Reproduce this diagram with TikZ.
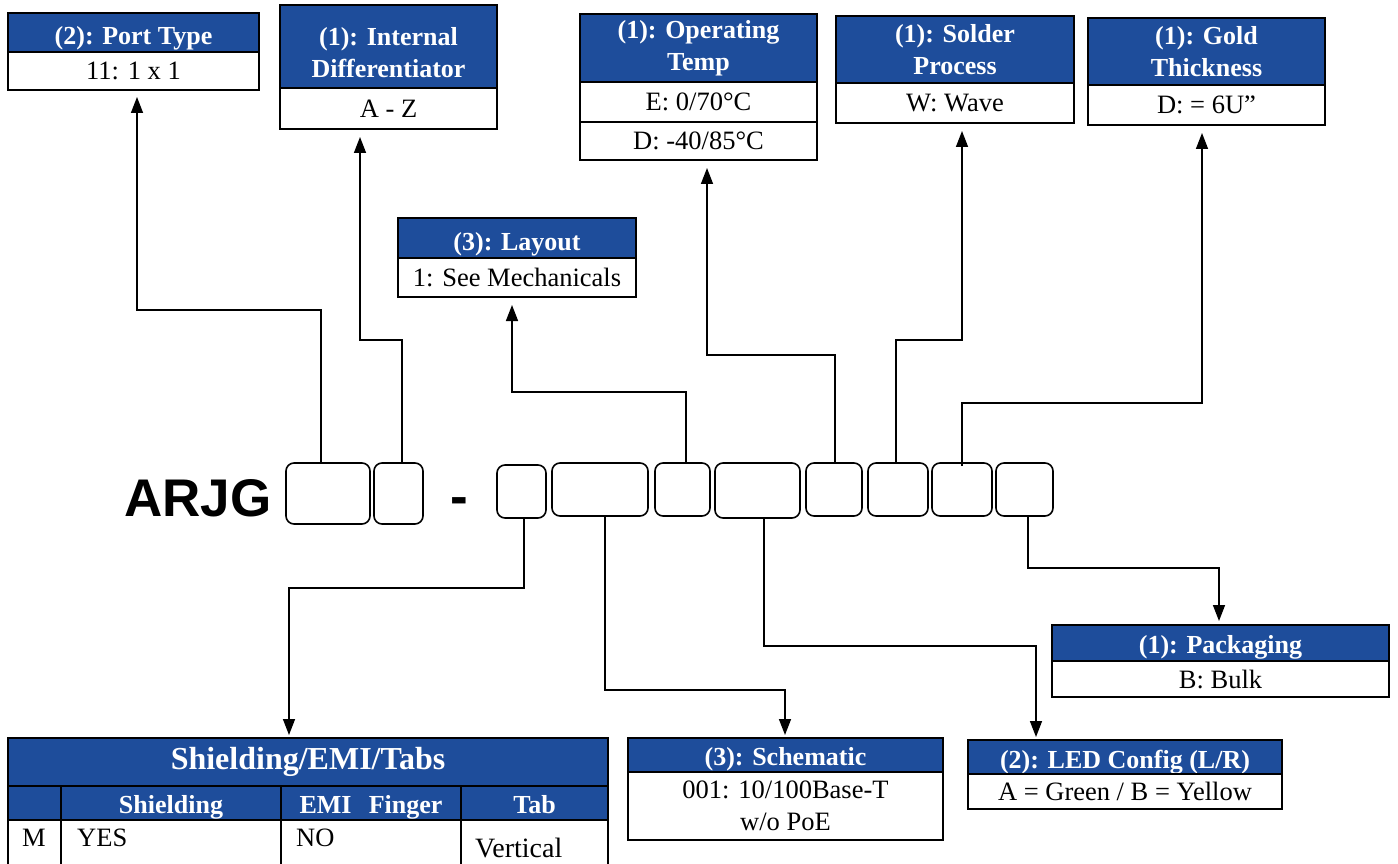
\documentclass[tikz,border=0pt]{standalone}
\usepackage{fontspec}
\setmainfont{Liberation Serif}
\newfontfamily\arialfont{Liberation Sans}
\usetikzlibrary{arrows.meta}
\definecolor{hdrblue}{RGB}{30,77,155}
\newcommand{\lowtwo}[3]{\raisebox{#1}[0pt][0pt]{\begin{tabular}{@{}c@{}}#2\\#3\end{tabular}}}
\begin{document}
\begin{tikzpicture}[x=1pt,y=-1pt,
  hdr/.style={draw=black, line width=2pt, fill=hdrblue, text=white,
    font=\fontsize{26}{32}\selectfont\bfseries, inner sep=0pt, outer sep=0pt,
    anchor=north west, align=center},
  one/.style={text height=#1, text depth=0pt},
  bdy/.style={draw=black, line width=2pt, fill=white,
    font=\fontsize{26.5}{32}\selectfont, inner sep=0pt, outer sep=0pt,
    anchor=north west, align=center},
  slot/.style={draw=black, line width=1.6pt, rounded corners=8pt,
    inner sep=0pt, outer sep=0pt, anchor=north west},
  cell/.style={draw=black, line width=2pt, inner sep=0pt, outer sep=0pt, anchor=north west},
  celltxt/.style={font=\fontsize{26.5}{30}\selectfont, inner sep=0pt, anchor=west},
  arr/.style={line width=1.5pt, -{Triangle[length=16pt,width=12pt]}}]
\useasboundingbox (0,0) rectangle (1398,864);
\clip (0,0) rectangle (1398,864);

% ---- top boxes
\node[hdr, one=25pt, minimum width=251pt, minimum height=39pt] (pt_t) at (8,13) {(2): Port Type};
\node[bdy, minimum width=251pt, minimum height=38pt] (pt_b) at (pt_t.south west) {11: 1 x 1};

\node[hdr, minimum width=217pt, minimum height=83pt] (id_t) at (280,5) {\lowtwo{-15pt}{(1): Internal}{Differentiator}};
\node[bdy, minimum width=217pt, minimum height=41pt] (id_b) at (id_t.south west) {A - Z};

\node[hdr, minimum width=237pt, minimum height=68pt] (ot_t) at (580,14) {(1): Operating\\Temp};
\node[bdy, minimum width=237pt, minimum height=40pt] (ot_b1) at (ot_t.south west) {E: 0/70°C};
\node[bdy, minimum width=237pt, minimum height=38pt] (ot_b2) at (ot_b1.south west) {D: -40/85°C};

\node[hdr, minimum width=238pt, minimum height=67pt] (sp_t) at (836,16) {(1): Solder\\Process};
\node[bdy, minimum width=238pt, minimum height=40pt] (sp_b) at (sp_t.south west) {W: Wave};

\node[hdr, minimum width=237pt, minimum height=67pt] (gt_t) at (1088,18) {(1): Gold\\Thickness};
\node[bdy, minimum width=237pt, minimum height=40pt] (gt_b) at (gt_t.south west) {D: = 6U”};

\node[hdr, one=25pt, minimum width=238pt, minimum height=40pt] (ly_t) at (398,218) {(3): Layout};
\node[bdy, minimum width=238pt, minimum height=39pt] (ly_b) at (ly_t.south west) {1: See Mechanicals};

% ---- bottom boxes
\node[hdr, one=21pt, minimum width=337pt, minimum height=36pt] (pk_t) at (1052,625) {(1): Packaging};
\node[bdy, minimum width=337pt, minimum height=36pt] (pk_b) at (pk_t.south west) {B: Bulk};

\node[hdr, one=21pt, minimum width=315pt, minimum height=34pt] (sc_t) at (628,738) {(3): Schematic};
\node[bdy, minimum width=315pt, minimum height=68pt] (sc_b) at (sc_t.south west) {001: 10/100Base-T\\w/o PoE};

\node[hdr, one=23pt, minimum width=314pt, minimum height=34pt] (led_t) at (968,740) {(2): LED Config (L/R)};
\node[bdy, minimum width=314pt, minimum height=35pt] (led_b) at (led_t.south west) {A = Green / B = Yellow};

% ---- shielding table
\node[hdr, minimum width=600pt, minimum height=48pt, font=\fontsize{32}{36}\selectfont\bfseries] (sh_t) at (8,738) {Shielding/EMI/Tabs};
\node[hdr, minimum width=53pt, minimum height=34pt] (h0) at (sh_t.south west) {};
\node[hdr, one=21pt, minimum width=220pt, minimum height=34pt] (h1) at (h0.north east) {Shielding};
\node[hdr, one=21pt, minimum width=180pt, minimum height=34pt] (h2) at (h1.north east) {EMI\ \ \,Finger};
\node[hdr, one=21pt, minimum width=147pt, minimum height=34pt] (h3) at (h2.north east) {Tab};
\node[cell, minimum width=53pt, minimum height=60pt] (d0) at (h0.south west) {};
\node[cell, minimum width=220pt, minimum height=60pt] (d1) at (h1.south west) {};
\node[cell, minimum width=180pt, minimum height=60pt] (d2) at (h2.south west) {};
\node[cell, minimum width=147pt, minimum height=60pt] (d3) at (h3.south west) {};
\node[celltxt, anchor=center] (tm) at (34,838) {M};
\node[celltxt] (tyes) at (77,838) {YES};
\node[celltxt] (tno) at (296,838) {NO};
\node[celltxt, font=\fontsize{28}{30}\selectfont] (tvert) at (475,848) {Vertical};

% ---- part number row
\node[font=\arialfont\bfseries\fontsize{53}{60}\selectfont, inner sep=0pt, anchor=west] (arjg) at (124,498) {ARJG};
\node[slot, minimum width=84pt, minimum height=61pt] (b1) at (286,463) {};
\node[slot, minimum width=49pt, minimum height=61pt] (b2) at (374,463) {};
\node[font=\arialfont\bfseries\fontsize{53}{60}\selectfont, inner sep=0pt] (dash) at (459,506) {-};
\node[slot, minimum width=49pt, minimum height=53pt] (b3) at (497,465) {};
\node[slot, minimum width=96pt, minimum height=53pt] (b4) at (552,463) {};
\node[slot, minimum width=55pt, minimum height=53pt] (b5) at (655,463) {};
\node[slot, minimum width=85pt, minimum height=55pt] (b6) at (715,463) {};
\node[slot, minimum width=56pt, minimum height=53pt] (b7) at (806,463) {};
\node[slot, minimum width=60pt, minimum height=53pt] (b8) at (868,463) {};
\node[slot, minimum width=60pt, minimum height=53pt] (b9) at (932,463) {};
\node[slot, minimum width=57pt, minimum height=53pt] (b10) at (996,463) {};

% ---- connectors up
\draw[arr] ([xshift=-7pt]b1.north) -- ++(0,-153) -| ([xshift=3.5pt,yshift=-7pt]pt_b.south);
\draw[arr] ([xshift=3.5pt]b2.north) -- ++(0,-123) -| ([xshift=-28.5pt,yshift=-8pt]id_b.south);
\draw[arr] ([xshift=3.5pt]b5.north) -- ++(0,-71) -| ([xshift=-5pt,yshift=-8pt]ly_b.south);
\draw[arr] ([xshift=1pt]b7.north) -- ++(0,-108) -| ([xshift=8.5pt,yshift=-8pt]ot_b2.south);
\draw[arr] ([xshift=-2pt]b8.north) -- ++(0,-123) -| ([xshift=7pt,yshift=-8pt]sp_b.south);
\draw[arr] ([yshift=-3pt]b9.north) -- ++(0,-63) -| ([xshift=-4.5pt,yshift=-8pt]gt_b.south);
% ---- connectors down
\draw[arr] ([xshift=2.5pt]b3.south) -- ++(0,70) -| ([xshift=-19pt,yshift=3pt]sh_t.north);
\draw[arr] ([xshift=5pt]b4.south) -- ++(0,174) -| ([xshift=-0.5pt,yshift=3pt]sc_t.north);
\draw[arr] ([xshift=6.5pt]b6.south) -- ++(0,128) -| ([xshift=-89pt,yshift=3pt]led_t.north);
\draw[arr] ([xshift=3.5pt]b10.south) -- ++(0,52) -| ([xshift=-1.5pt,yshift=4pt]pk_t.north);
\end{tikzpicture}
\end{document}
